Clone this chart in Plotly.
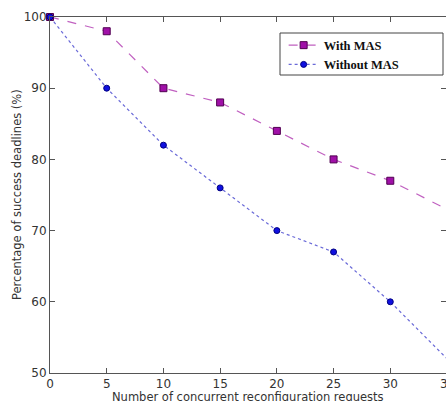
import plotly.graph_objects as go

requests = [0, 5, 10, 15, 20, 25, 30, 35]
with_mas = [100, 98, 90, 88, 84, 80, 77, 73]
without_mas = [100, 90, 82, 76, 70, 67, 60, 52]
x_ticks = [0, 5, 10, 15, 20, 25, 30, 35]
y_ticks = [50, 60, 70, 80, 90, 100]

fig = go.Figure()
fig.add_trace(go.Scatter(
    x=requests, y=with_mas, name="With MAS", mode="lines+markers",
    line=dict(color="#c060c0", width=1.2, dash="dash"),
    marker=dict(symbol="square", size=7, color="#a010a8", line=dict(color="#500050", width=1)),
    cliponaxis=False,
))
fig.add_trace(go.Scatter(
    x=requests, y=without_mas, name="Without MAS", mode="lines+markers",
    line=dict(color="#6a6ad8", width=1.2, dash="dot"),
    marker=dict(symbol="circle", size=6, color="#1010e0", line=dict(color="#000080", width=1)),
    cliponaxis=False,
))

W, H = 446, 401
L, T, B = 50, 17, 28
PW = 396
PH = H - T - B

axis_font = dict(family="DejaVu Sans", size=12, color="#333333")
fig.update_layout(
    width=W, height=H,
    margin=dict(l=L, r=0, t=T, b=B, autoexpand=False),
    plot_bgcolor="white", paper_bgcolor="white",
    showlegend=True,
    legend=dict(x=0.59, y=0.962, xanchor="left", yanchor="top",
                bgcolor="rgba(0,0,0,0)", borderwidth=0,
                font=dict(family="Liberation Serif", size=12.5, color="#111111", weight="bold"),
                itemwidth=30, tracegroupgap=0),
    shapes=[dict(type="rect", xref="paper", yref="paper",
                 x0=(280 - 50) / PW, x1=(443 - 50) / PW,
                 y0=1 - (75 - 17) / PH, y1=1 - (33 - 17) / PH,
                 line=dict(color="#444444", width=1), fillcolor="rgba(0,0,0,0)")],
    annotations=[
        dict(text="35", xref="paper", yref="paper",
             x=(447 - 50) / PW, y=0, yshift=-2, xanchor="center", yanchor="top",
             showarrow=False, font=axis_font),
        dict(text="Number of concurrent reconfiguration requests", xref="paper", yref="paper",
             x=(248 - 50) / PW, y=0, yshift=-15, xanchor="center", yanchor="top",
             showarrow=False, font=dict(family="DejaVu Sans", size=11.5, color="#333333")),
        dict(text="Percentage of success deadlines (%)", xref="paper", yref="paper",
             x=0, xshift=-33, y=0.5, xanchor="center", yanchor="middle", textangle=-90,
             showarrow=False, font=dict(family="DejaVu Sans", size=11.5, color="#333333")),
    ],
)
fig.update_xaxes(
    range=[0, 35 * PW / 397], tickvals=x_ticks[:-1], ticks="inside", ticklen=5,
    tickcolor="#555555", showline=True, linecolor="#555555", linewidth=1, mirror="ticks",
    showgrid=False, zeroline=False, tickfont=axis_font, automargin=False,
)
fig.update_yaxes(
    range=[50, 100], tickvals=y_ticks, ticks="inside", ticklen=5,
    tickcolor="#555555", showline=True, linecolor="#555555", linewidth=1, mirror="ticks",
    showgrid=False, zeroline=False, tickfont=axis_font, automargin=False,
)

fig.write_html(
    "out.html",
    config={"displayModeBar": False},
    post_script="document.body.style.margin='0';document.body.style.overflow='hidden';",
)
